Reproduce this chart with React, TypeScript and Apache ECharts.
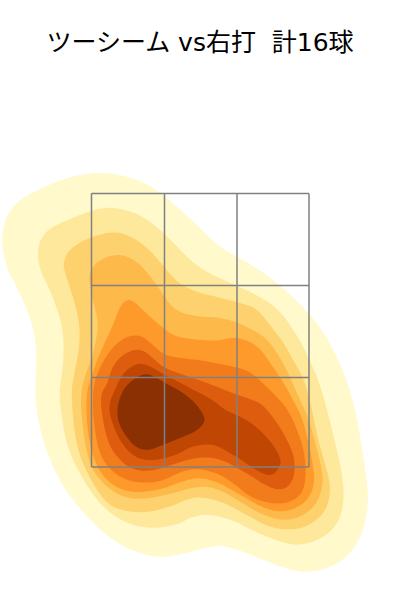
import React, { useEffect, useRef } from "react";
import * as echarts from "echarts";

const titleText = "ツーシーム vs右打  計16球";

const level1 = [[100,172],[122,175],[143,182],[163,194],[187,216],[200,228],[217,245],[237,257],[257,268],[280,285],[308,312],[327,337],[338,360],[347,380],[357,417],[365,467],[369,500],[364,530],[351,554],[330,568],[307,573],[283,568],[257,557],[233,548],[217,545],[187,553],[163,558],[137,553],[110,539],[83,513],[60,483],[43,443],[35,403],[36,370],[36,340],[30,317],[17,287],[6,267],[1,240],[6,216],[17,202],[33,192],[67,177]];
const level2 = [[113,207],[140,214],[163,232],[187,257],[200,268],[217,277],[237,286],[257,295],[280,310],[300,340],[308,357],[320,383],[333,433],[343,477],[344,503],[338,524],[323,538],[303,545],[287,544],[257,533],[233,520],[210,514],[190,517],[180,524],[153,529],[127,524],[103,508],[83,480],[68,450],[62,420],[59,393],[62,375],[64,350],[63,333],[60,317],[50,290],[40,270],[37,253],[41,237],[53,226],[77,216],[97,209]];
const level3 = [[115,231],[133,237],[150,250],[165,268],[180,285],[200,293],[217,297],[237,302],[257,308],[272,328],[282,340],[293,360],[303,377],[310,400],[318,440],[327,470],[331,490],[326,511],[312,524],[295,530],[270,528],[247,515],[223,502],[203,497],[190,498],[170,507],[145,513],[123,511],[105,503],[85,470],[75,440],[71,393],[74,375],[79,350],[80,327],[75,303],[65,273],[63,263],[69,249],[90,237]];
const level4 = [[115,254],[130,257],[143,267],[157,285],[165,298],[177,312],[200,317],[217,317],[237,322],[257,332],[268,340],[280,357],[290,377],[300,400],[308,417],[316,445],[322,470],[323,485],[317,504],[303,516],[285,521],[265,516],[245,505],[225,492],[207,486],[190,488],[170,494],[140,500],[120,496],[103,484],[90,466],[83,433],[80,393],[87,370],[92,358],[95,345],[98,328],[97,315],[93,302],[90,287],[89,273],[97,261]];
const level5 = [[127,299],[135,302],[148,315],[162,327],[175,337],[200,340],[217,341],[233,337],[247,340],[260,348],[273,367],[285,385],[293,400],[302,417],[308,440],[313,465],[315,482],[309,499],[295,509],[280,512],[263,508],[237,493],[220,483],[200,477],[180,482],[160,490],[130,493],[110,484],[95,465],[87,430],[86,393],[92,375],[97,360],[105,342],[113,325],[120,306]];
const level6 = [[133,335],[142,336],[152,344],[164,355],[180,358],[200,360],[220,364],[240,368],[250,372],[262,382],[280,400],[290,413],[300,437],[305,455],[306,480],[301,496],[285,504],[268,503],[250,497],[237,486],[220,474],[197,468],[180,472],[160,482],[140,483],[123,479],[107,467],[98,450],[93,417],[93,385],[100,367],[110,350],[122,339]];
const level7 = [[135,349],[145,351],[157,362],[165,368],[175,372],[190,377],[210,384],[235,394],[250,399],[262,404],[273,417],[283,432],[292,450],[295,463],[294,478],[287,488],[277,490],[263,484],[250,475],[237,468],[225,461],[210,457],[195,458],[180,462],[150,472],[130,469],[115,455],[107,440],[101,410],[101,393],[107,385],[112,367],[122,355]];
const level8 = [[140,363],[150,366],[165,375],[175,380],[190,388],[213,400],[225,410],[237,415],[250,422],[263,433],[275,447],[281,460],[280,466],[274,475],[265,475],[253,468],[237,457],[220,447],[210,444],[200,445],[190,447],[177,455],[153,461],[135,458],[120,442],[110,417],[109,403],[117,385],[122,375],[130,367]];
const level9 = [[146,373],[157,378],[165,383],[177,389],[193,400],[204,415],[205,422],[197,431],[180,438],[163,445],[147,451],[135,447],[125,435],[118,422],[117,407],[122,392],[127,385],[135,378]];

const levels = [level1, level2, level3, level4, level5, level6, level7, level8, level9];
const levelColors = ["#FFF9CC", "#FEE89B", "#FED16F", "#FEB94B", "#FE9A2B", "#F27C1C", "#DE5C0D", "#C04703", "#8B3003"];

const zoneX = [91.5, 164.5, 237, 309];
const zoneY = [193.5, 285.5, 377.5, 467];

// corner-cutting so that the traced outline renders as a smooth curve
function roundOutline(pts: number[][], passes: number): number[][] {
  let out = pts;
  for (let k = 0; k < passes; k++) {
    const next: number[][] = [];
    for (let i = 0; i < out.length; i++) {
      const a = out[i];
      const b = out[(i + 1) % out.length];
      next.push([a[0] * 0.75 + b[0] * 0.25, a[1] * 0.75 + b[1] * 0.25]);
      next.push([a[0] * 0.25 + b[0] * 0.75, a[1] * 0.25 + b[1] * 0.75]);
    }
    out = next;
  }
  return out;
}

export default function App() {
  const ref = useRef<HTMLDivElement>(null);
  useEffect(() => {
    const chart = echarts.init(ref.current!, null, { renderer: "svg" });
    const contourSeries = levels.map((pts, i) => ({
      type: "custom",
      silent: true,
      clip: false,
      z: 2 + i,
      data: pts,
      encode: { x: 0, y: 1 },
      renderItem: (params: any, api: any) => {
        if (params.dataIndex !== 0) return null;
        return {
          type: "polygon",
          shape: { points: roundOutline(pts.map((p) => api.coord(p)), 3) },
          style: { fill: levelColors[i], stroke: null },
        };
      },
    }));
    const zoneLines: number[][] = [];
    zoneX.forEach((x) => zoneLines.push([x, zoneY[0], x, zoneY[3]]));
    zoneY.forEach((y) => zoneLines.push([zoneX[0], y, zoneX[3], y]));
    const zoneSeries = {
      type: "custom",
      silent: true,
      clip: false,
      z: 20,
      data: zoneLines,
      encode: { x: [0, 2], y: [1, 3] },
      renderItem: (_: any, api: any) => {
        const a = api.coord([api.value(0), api.value(1)]);
        const b = api.coord([api.value(2), api.value(3)]);
        return {
          type: "line",
          shape: { x1: a[0], y1: a[1], x2: b[0], y2: b[1] },
          style: { stroke: "#808080", lineWidth: 1.5 },
        };
      },
    };
    chart.setOption({
      animation: false,
      backgroundColor: "#ffffff",
      title: {
        text: titleText,
        left: 195,
        top: 25,
        textAlign: "center",
        textStyle: { fontFamily: "'DejaVu Sans', 'Noto Sans CJK JP'", fontSize: 25, fontWeight: "normal", color: "#000000" },
      },
      grid: { left: 0, top: 0, width: 400, height: 600 },
      xAxis: { type: "value", min: 0, max: 400, show: false },
      yAxis: { type: "value", min: 0, max: 600, inverse: true, show: false },
      series: [...contourSeries, zoneSeries],
    } as any);
    return () => chart.dispose();
  }, []);
  return <div ref={ref} style={{ position: "fixed", left: 0, top: 0, width: 400, height: 600 }} />;
}
